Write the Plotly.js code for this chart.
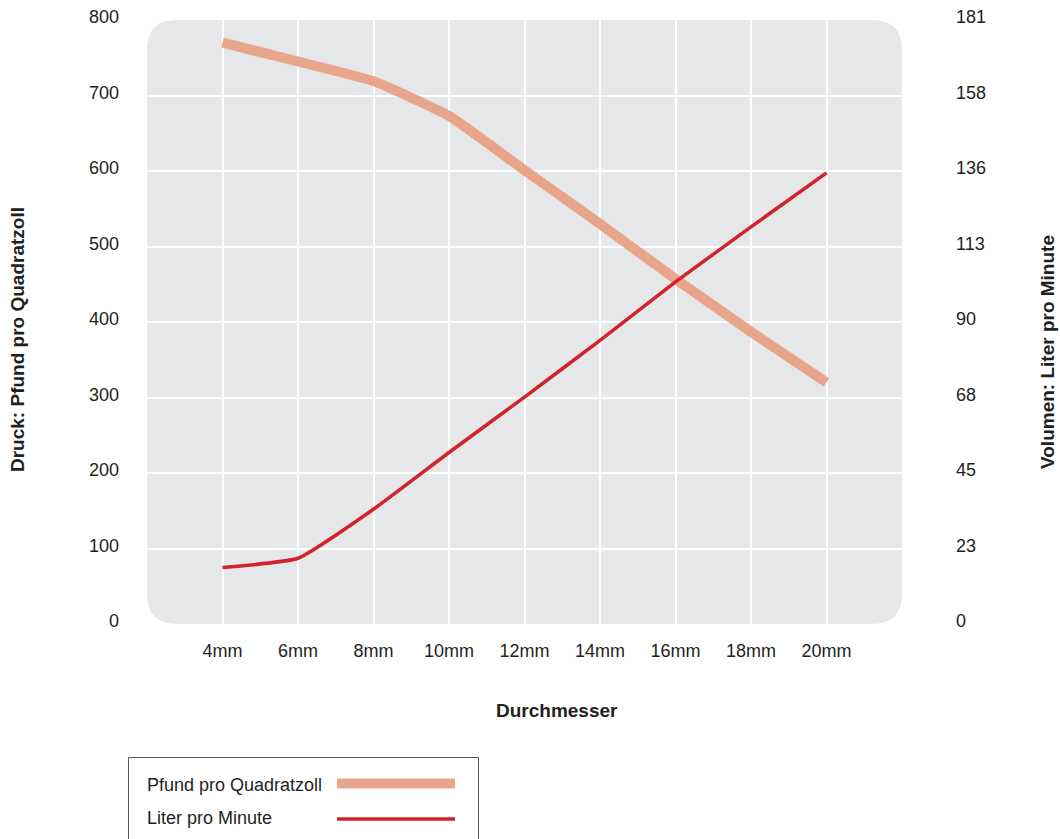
<!DOCTYPE html>
<html>
<head>
<meta charset="utf-8">
<script src="https://cdn.plot.ly/plotly-3.0.1.min.js"></script>
<style>html,body{margin:0;padding:0;background:#fff;}#chart{width:1060px;height:839px;}</style>
</head>
<body>
<div id="chart"></div>
<script>
// ---- data ----
const categories = ["4mm", "6mm", "8mm", "10mm", "12mm", "14mm", "16mm", "18mm", "20mm"];
const pressurePsi = [770, 745, 719, 673, 601, 530, 457, 387, 320];
const volumeLpm = [16.9, 19.7, 34.4, 51.4, 68.0, 85.0, 102.5, 119.0, 135.2];
const leftTicks = [0, 100, 200, 300, 400, 500, 600, 700, 800];
const rightTickLabels = ["0", "23", "45", "68", "90", "113", "136", "158", "181"];
const seriesNames = ["Pfund pro Quadratzoll", "Liter pro Minute"];

// ---- style ----
const W = 1060, H = 839;
const L = 147, R = 902, T = 20, B = 624;
const FONT = "Liberation Sans, Arial, Helvetica, sans-serif";
const TXT = "#231f20";
const C_P = "#e9a48c", C_V = "#d2222b";
const LW_P = 10, LW_V = 3.5;
const px = x => (x - L) / (R - L);
const py = y => (B - y) / (B - T);

const rightMax = 181;
const rightTickVals = leftTicks.map(v => v / 800 * rightMax);

const traces = [
  { x: categories, y: pressurePsi, name: seriesNames[0], type: "scatter", mode: "lines",
    line: { color: C_P, width: LW_P, shape: "spline", smoothing: 0.4 }, yaxis: "y", hoverinfo: "skip" },
  { x: categories, y: volumeLpm, name: seriesNames[1], type: "scatter", mode: "lines",
    line: { color: C_V, width: LW_V, shape: "spline", smoothing: 0.4 }, yaxis: "y2", hoverinfo: "skip" }
];

// rounded background path in paper coords
const rad = 30;
const rx = rad / (R - L), ry = rad / (B - T);
const bgPath = `M ${rx} 1 L ${1 - rx} 1 Q 1 1 1 ${1 - ry} L 1 ${ry} Q 1 0 ${1 - rx} 0 L ${rx} 0 Q 0 0 0 ${ry} L 0 ${1 - ry} Q 0 1 ${rx} 1 Z`;

const shapes = [
  { type: "path", xref: "paper", yref: "paper", path: bgPath, fillcolor: "#e6e7e8", line: { width: 0 }, layer: "below" },
  // legend box
  { type: "rect", xref: "paper", yref: "paper", x0: px(128.5), x1: px(478.5), y0: py(757.5), y1: py(850),
    line: { color: "#555", width: 1 }, fillcolor: "rgba(0,0,0,0)", layer: "above" },
  { type: "line", xref: "paper", yref: "paper", x0: px(337), x1: px(455), y0: py(783.5), y1: py(783.5),
    line: { color: C_P, width: LW_P } },
  { type: "line", xref: "paper", yref: "paper", x0: px(337), x1: px(455), y0: py(819), y1: py(819),
    line: { color: C_V, width: LW_V } }
];

const annotations = [
  { text: "<b>Druck: Pfund pro Quadratzoll</b>", xref: "paper", yref: "paper", x: px(17), y: py(340),
    textangle: -90, showarrow: false, xanchor: "center", yanchor: "middle", font: { family: FONT, size: 19, color: TXT } },
  { text: "<b>Volumen: Liter pro Minute</b>", xref: "paper", yref: "paper", x: px(1048), y: py(352),
    textangle: -90, showarrow: false, xanchor: "center", yanchor: "middle", font: { family: FONT, size: 19, color: TXT } },
  { text: "<b>Durchmesser</b>", xref: "paper", yref: "paper", x: px(557), y: py(710),
    showarrow: false, xanchor: "center", yanchor: "middle", font: { family: FONT, size: 19, color: TXT } },
  { text: seriesNames[0], xref: "paper", yref: "paper", x: px(145), y: py(785),
    showarrow: false, xanchor: "left", yanchor: "middle", font: { family: FONT, size: 18, color: TXT } },
  { text: seriesNames[1], xref: "paper", yref: "paper", x: px(145), y: py(818),
    showarrow: false, xanchor: "left", yanchor: "middle", font: { family: FONT, size: 18, color: TXT } }
];

const layout = {
  width: W, height: H,
  margin: { l: L, r: W - R, t: T, b: H - B, pad: 0 },
  paper_bgcolor: "#ffffff", plot_bgcolor: "rgba(0,0,0,0)",
  showlegend: false,
  font: { family: FONT, size: 18, color: TXT },
  xaxis: {
    type: "category", categoryorder: "array", categoryarray: categories,
    range: [-1, categories.length], showgrid: true, gridcolor: "#ffffff", gridwidth: 2,
    zeroline: false, showline: false, ticks: "", ticklabelstandoff: 14,
    tickfont: { family: FONT, size: 18, color: TXT }, fixedrange: true
  },
  yaxis: {
    range: [0, 800], tickvals: leftTicks, showgrid: true, gridcolor: "#ffffff", gridwidth: 2,
    zeroline: false, showline: false, ticks: "", ticklabelstandoff: 27, ticklabelshift: -3,
    tickfont: { family: FONT, size: 18, color: TXT }, fixedrange: true
  },
  yaxis2: {
    overlaying: "y", side: "right", range: [0, rightMax], tickvals: rightTickVals, ticktext: rightTickLabels,
    showgrid: false, zeroline: false, showline: false, ticks: "", ticklabelstandoff: 53, ticklabelshift: -3,
    tickfont: { family: FONT, size: 18, color: TXT }, fixedrange: true
  },
  shapes: shapes,
  annotations: annotations
};

Plotly.newPlot("chart", traces, layout, { displayModeBar: false, staticPlot: true });
</script>
</body>
</html>
